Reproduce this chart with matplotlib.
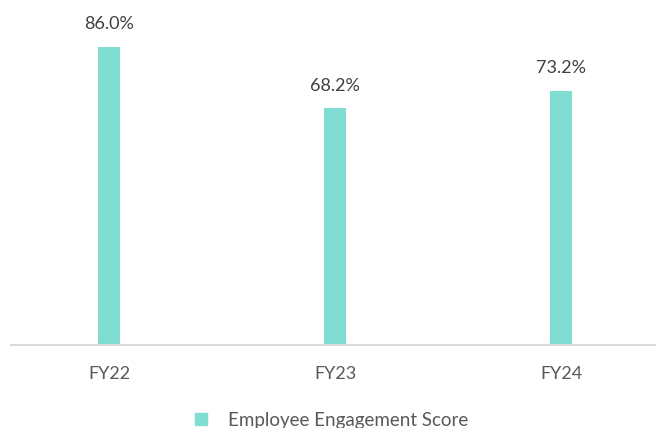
import matplotlib.pyplot as plt
from matplotlib.patches import Patch

plt.rcParams['font.family'] = ['Lato', 'DejaVu Sans']

years = ["FY22", "FY23", "FY24"]
engagement = [86.0, 68.2, 73.2]
series_name = "Employee Engagement Score"

bar_color = "#80DDD2"
text_color = "#595959"

fig = plt.figure(figsize=(6.56, 4.28), dpi=100)
ax = fig.add_axes([11 / 656, 83 / 428, 644 / 656, 0.73])

x = range(len(years))
bars = ax.bar(x, engagement, width=0.097, color=bar_color, zorder=2)

for rect, val in zip(bars, engagement):
    ax.annotate(f"{val:.1f}%", (rect.get_x() + rect.get_width() / 2, val),
                xytext=(0, 10.5), textcoords="offset points",
                ha="center", va="bottom", fontsize=13, color="#404040")

ax.set_xlim(-0.434, 2.415)
ax.set_ylim(0, 86.0 / 299 * (345 - 32))
ax.set_xticks(list(x))
ax.set_xticklabels(years, fontsize=13, color=text_color)
ax.tick_params(axis="x", length=0, pad=15)
ax.set_yticks([])

for side in ["top", "right", "left"]:
    ax.spines[side].set_visible(False)
ax.spines["bottom"].set_color("#D9D9D9")
ax.spines["bottom"].set_linewidth(1.5)

fig.legend(handles=[Patch(color=bar_color, label=series_name)],
           loc="center", bbox_to_anchor=(0.505, 0.018), frameon=False,
           fontsize=13.5, labelcolor=text_color,
           handlelength=0.65, handleheight=0.65, handletextpad=1.1)

fig.savefig("out.png", dpi=100)
